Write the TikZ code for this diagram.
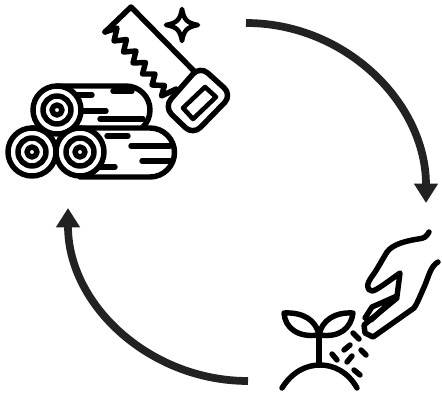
\documentclass[tikz,border=0pt]{standalone}
\usepackage{tikz}
\usetikzlibrary{arrows.meta, calc}
\definecolor{arrowgray}{HTML}{222222}
\tikzset{
    icon/.style={draw=black, line width=3.1pt, line join=round, line cap=round},
    thinicon/.style={icon, line width=2.6pt},
    cyclearrow/.style={draw=arrowgray, line width=4.4pt, -{Triangle[length=11pt, width=13pt]}}
}
\begin{document}
\begin{tikzpicture}[x=0.02cm, y=-0.02cm]
    \useasboundingbox (0, 0) rectangle (442, 394);

    % arrows
    \coordinate (c1) at (246, 23);
    \coordinate (c2) at (426, 203);
    \coordinate (c3) at (248, 381);
    \coordinate (c4) at (68, 208);
    \draw[cyclearrow] (c1) to[out=0, in=90] (c2);
    \draw[cyclearrow] (c3) to[out=180, in=-90] (c4);

    % upper log
    \draw[icon] (57, 86) -- (126, 86) arc (-90:45:24);
    \draw[icon] (113, 91) -- (132, 91);
    \draw[icon] (77, 95) -- (92, 95);
    \draw[icon] (80, 111) -- (106, 111);
    \draw[icon] (100, 119) -- (143, 119);

    % lower logs
    \draw[icon] (32, 128) -- (150, 128) arc (-90:90:24.5) -- (80, 177);
    \draw[icon] (107, 136) -- (128, 136);
    \draw[icon] (131, 146) -- (170, 146);
    \draw[icon] (142, 161) -- (170, 161);
    \draw[icon] (100, 167) -- (115, 167);

    % log ends
    \foreach \x/\y in {57/110, 32/152, 80/152} {
        \draw[icon, fill=white] (\x, \y) circle (24);
        \draw[icon] (\x, \y) circle (14);
        \draw[icon] (\x, \y) circle (5);
    }

    % saw
    \draw[icon] (105, 32) -- (131, 7) -- (195, 72);
    \draw[icon] (105, 32)
        \foreach \k in {0,...,5} {
            -- ($(117, 28)+(\k*9.5, \k*11.5)$) -- ($(114, 41)+(\k*9.5, \k*11)$)
        }
        -- (176, 89);
    \draw[icon, rounded corners=6pt] (200, 66) -- (232, 95) -- (193, 135) -- (164, 107) -- cycle;
    \draw[thinicon] (205, 87) -- (216, 97) -- (193, 119) -- (183, 108) -- cycle;

    % star
    \draw[thinicon] (182, 9) .. controls (184, 20) and (187, 23) .. (198, 25)
        .. controls (187, 27) and (184, 30) .. (182, 41)
        .. controls (180, 30) and (177, 27) .. (166, 25)
        .. controls (177, 23) and (180, 20) .. (182, 9) -- cycle;

    % sprout
    \draw[icon] (282, 388) .. controls (292, 372) and (306, 365) .. (320, 365)
        .. controls (334, 365) and (348, 372) .. (357, 388);
    \draw[icon] (319, 365) -- (319, 335);
    \draw[icon] (319, 335) .. controls (316, 320) and (303, 312) .. (284, 313)
        .. controls (285, 328) and (298, 338) .. (319, 335);
    \draw[icon] (319, 335) .. controls (322, 320) and (335, 312) .. (353, 313)
        .. controls (351, 328) and (340, 338) .. (319, 335);

    % seeds
    \foreach \xa/\ya/\xb/\yb in {353/333/359/339, 350/345/344/350, 361/350/366/355,
        332/354/337/360, 352/356/347/362, 354/370/360/375} {
        \draw[icon] (\xa, \ya) -- (\xb, \yb);
    }

    % hand
    \draw[icon] (429, 232) .. controls (426, 237) and (425, 238) .. (418, 239)
        .. controls (406, 241) and (393, 244) .. (387, 252)
        .. controls (382, 260) and (378, 268) .. (373, 275)
        .. controls (366, 284) and (366, 290) .. (372, 291)
        .. controls (376, 291) and (390, 280) .. (400, 273)
        -- (397, 296) -- (372, 307) -- (365, 318) -- (371, 320) -- (397, 296);
    \draw[icon] (438, 262) .. controls (431, 266) and (429, 275) .. (425, 285)
        .. controls (420, 296) and (417, 304) .. (414, 308)
        -- (373, 337) -- (365, 333) -- (364, 325) -- (397, 298);
\end{tikzpicture}
\end{document}
